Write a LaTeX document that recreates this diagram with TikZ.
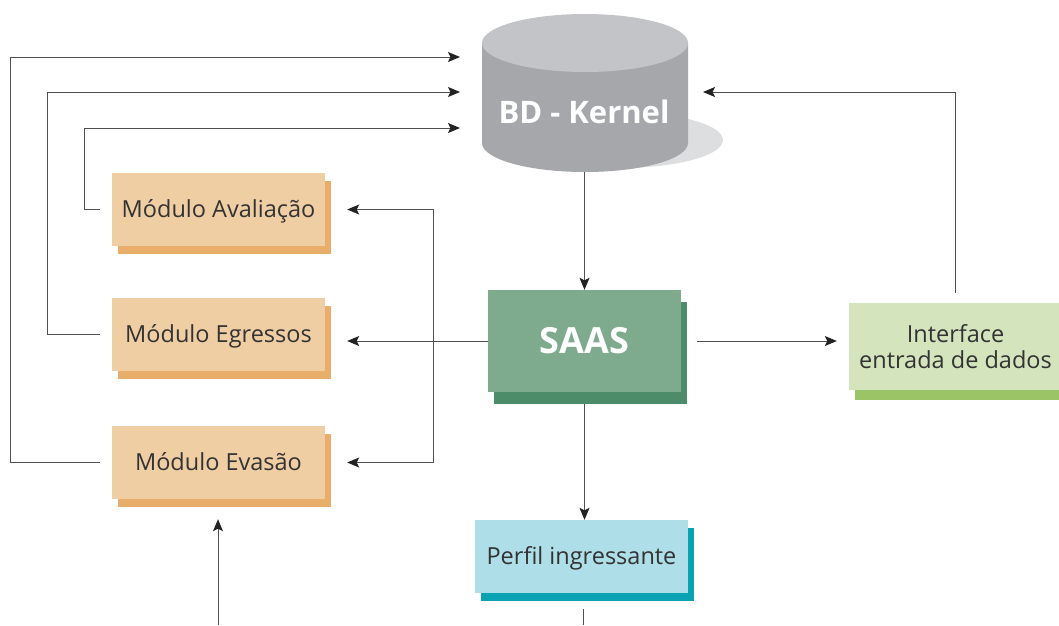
\documentclass[tikz,border=0pt]{standalone}
\usepackage{fontspec}
\setmainfont{Open Sans}
\usetikzlibrary{arrows.meta,shadows,calc}

\definecolor{txt}{HTML}{333333}
\definecolor{wire}{HTML}{505050}
\definecolor{tip}{HTML}{222222}
\definecolor{modfill}{HTML}{F0CEA4}
\definecolor{modshadow}{HTML}{E8AE6A}
\definecolor{saasfill}{HTML}{7EAB8D}
\definecolor{saasshadow}{HTML}{4D8C68}
\definecolor{inffill}{HTML}{D4E5BD}
\definecolor{infshadow}{HTML}{9AC466}
\definecolor{perffill}{HTML}{AEDFE8}
\definecolor{perfshadow}{HTML}{0BA3B3}
\definecolor{cylbody}{HTML}{A6A7AB}
\definecolor{cyltop}{HTML}{C3C4C7}
\definecolor{cylshadow}{HTML}{DDDEE0}

\tikzset{
  box/.style={rectangle, inner sep=0pt, align=center, text=txt,
    font=\fontsize{23.5}{26}\selectfont},
  oneline/.style={text height=19pt, text depth=4pt},
  modbox/.style={box, oneline, fill=modfill, minimum width=213pt, minimum height=73pt,
    general shadow={fill=modshadow, shadow xshift=6pt, shadow yshift=-8pt}},
  saasbox/.style={box, fill=saasfill, text=white, minimum width=193pt, minimum height=102pt,
    font=\fontsize{36}{40}\selectfont\bfseries,
    general shadow={fill=saasshadow, shadow xshift=6pt, shadow yshift=-12pt}},
  infbox/.style={box, fill=inffill, minimum width=213pt, minimum height=87pt,
    general shadow={fill=infshadow, shadow xshift=6pt, shadow yshift=-10pt}},
  perfbox/.style={box, oneline, fill=perffill, minimum width=213pt, minimum height=73pt,
    general shadow={fill=perfshadow, shadow xshift=6pt, shadow yshift=-8pt}},
  conn/.style={draw=wire, line width=1pt},
  arr/.style={conn, -{Stealth[length=12pt,width=10pt,inset=2.5pt,color=tip]}},
}

\begin{document}
\begin{tikzpicture}[x=1pt, y=-1pt]
\useasboundingbox (0,0) rectangle (1059,625);

% database cylinder with its cast shadow
\fill[cylshadow] (620,140) ellipse [x radius=103, y radius=28];
\fill[cylbody] (482,43) -- (482,143) arc [start angle=180, end angle=360, x radius=103, y radius=-29]
  -- (688,43) -- cycle;
\fill[cyltop] (585,43) ellipse [x radius=103, y radius=29];
\node[rectangle, minimum width=206pt, minimum height=158pt, inner sep=0pt] (bd) at (585,93) {};
\node[text=white, font=\fontsize{31}{34}\selectfont\bfseries] (bdlabel) at (584,112) {BD - Kernel};

% boxes
\node[modbox] (avl) at (218.5,209.5) {Módulo Avaliação};
\node[modbox] (egr) at (218.5,334.5) {Módulo Egressos};
\node[modbox] (evs) at (218.5,462.5) {Módulo Evasão};
\node[saasbox] (saas) at (584.5,341) {SAAS};
\node[infbox] (inf) at (955.5,346.5) {Interface\\entrada de dados};
\node[perfbox] (perf) at (581.5,556.5) {Perfil ingressante};

% free ends and bend points
\coordinate (in1) at (460,57);
\coordinate (in2) at (460,92);
\coordinate (in3) at (460,128);
\coordinate (inR) at (703,92);
\coordinate (hub) at (433,341);
\coordinate (low) at (218,625);
\coordinate (tail) at (583,625);

% modules back to the database
\draw[arr, shorten <=12pt] (evs.west) -- (10,462.5) |- (in1);
\draw[arr, shorten <=12pt] (egr.west) -- (47,334.5) |- (in2);
\draw[arr, shorten <=12pt] (avl.west) -- (84,209.5) |- (in3);

% database to SAAS and on to the profile
\draw[arr] (bd.south -| saas.north) -- (saas.north);
\draw[arr, shorten <=12pt] (saas.south) -- (saas.south |- perf.north);
\draw[conn, shorten <=16pt] (tail |- perf.south) -- (tail);

% SAAS fans out to the modules
\draw[conn] (saas.west) -- (hub);
\draw[arr] (hub) -- ([xshift=22pt]egr.east |- hub);
\draw[arr] (hub) |- ([xshift=22pt]avl.east);
\draw[arr] (hub) |- ([xshift=22pt]evs.east);

% SAAS to the input interface and back into the database
\draw[arr, shorten <=16pt, shorten >=12pt] (saas.east) -- (inf.west |- saas.east);
\draw[arr, shorten <=10pt] (inf.north) -- (inf.north |- inR) -- (inR);

% incoming line under the evasion module
\draw[arr] (low) -- ([yshift=-20pt]evs.south -| low);
\end{tikzpicture}
\end{document}
